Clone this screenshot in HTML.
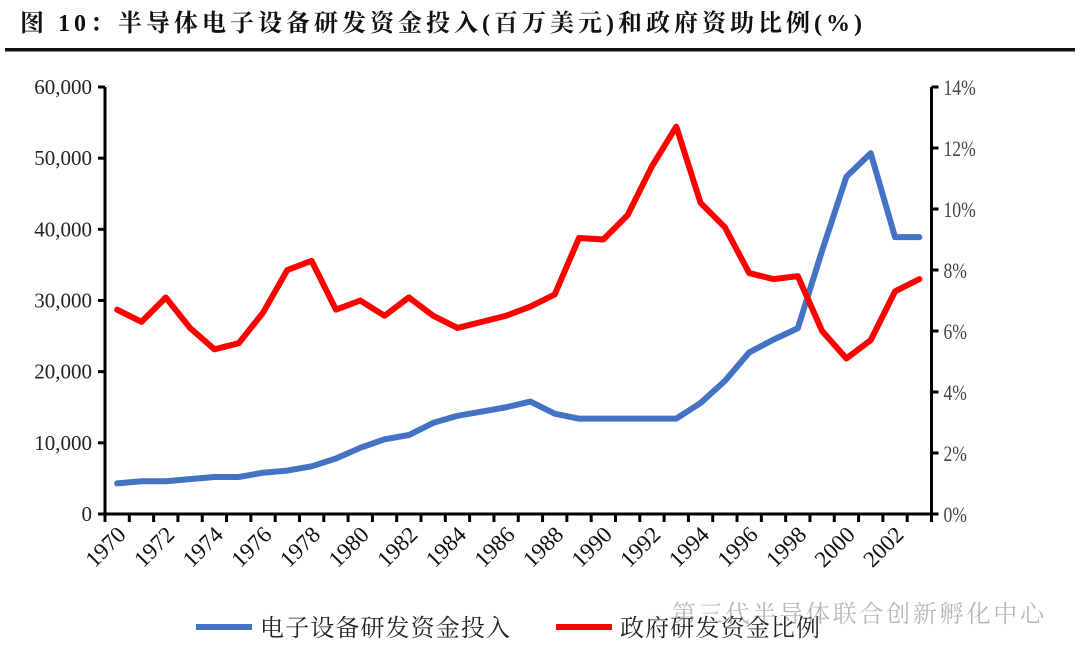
<!DOCTYPE html>
<html><head><meta charset="utf-8"><style>
body{margin:0;background:#fff;width:1080px;height:665px;overflow:hidden}
svg text{font-family:"Liberation Serif","Noto Serif CJK SC",serif}
</style></head><body>
<svg width="1080" height="665" viewBox="0 0 1080 665">
<text x="20" y="31" font-size="24" font-weight="bold" fill="#111" textLength="842" lengthAdjust="spacing">图 10：半导体电子设备研发资金投入(百万美元)和政府资助比例(%)</text>
<rect x="5" y="48" width="1070" height="3.5" fill="#111"/>
<g id="axes"></g>
<g id="lines"></g>
<g>
<line x1="196" y1="627" x2="252" y2="627" stroke="#4472C4" stroke-width="6"/>
<text x="260" y="636" font-size="24" fill="#222" textLength="250" lengthAdjust="spacing" font-family="Liberation Sans,Noto Sans CJK SC,sans-serif">电子设备研发资金投入</text>
<line x1="556" y1="627" x2="612" y2="627" stroke="#FF0000" stroke-width="6"/>
<text x="620" y="636" font-size="24" fill="#222" textLength="200" lengthAdjust="spacing" font-family="Liberation Sans,Noto Sans CJK SC,sans-serif">政府研发资金比例</text>
</g>
<text x="672" y="622" font-size="24" fill="#888" opacity="0.6" textLength="372" lengthAdjust="spacing" font-family="Liberation Sans,Noto Sans CJK SC,sans-serif">第三代半导体联合创新孵化中心</text>
</svg>
<script>
const years=[1970,1971,1972,1973,1974,1975,1976,1977,1978,1979,1980,1981,1982,1983,1984,1985,1986,1987,1988,1989,1990,1991,1992,1993,1994,1995,1996,1997,1998,1999,2000,2001,2002,2003];
const investment=[4300,4600,4600,4900,5200,5200,5800,6100,6700,7800,9300,10500,11100,12800,13800,14400,15000,15800,14100,13400,13400,13400,13400,13400,15600,18700,22700,24500,26100,37000,47400,50700,38900,38900];
const ratio=[6.7,6.3,7.1,6.1,5.4,5.6,6.6,8.0,8.3,6.7,7.0,6.5,7.1,6.5,6.1,6.3,6.5,6.8,7.2,9.05,9.0,9.8,11.4,12.7,10.2,9.4,7.9,7.7,7.8,6.0,5.1,5.7,7.3,7.7];
const leftTicks=[0,10000,20000,30000,40000,50000,60000];
const rightTicks=[0,2,4,6,8,10,12,14];
const NS="http://www.w3.org/2000/svg";
const X0=105,X1=931.5,Y0=514,Y1=87;
const bw=(X1-X0)/years.length;
const xc=i=>X0+bw*(i+0.5);
const yL=v=>Y0-(v/60000)*(Y0-Y1);
const yR=v=>Y0-(v/14)*(Y0-Y1);
function mk(tag,attrs,parent){const e=document.createElementNS(NS,tag);for(const k in attrs)e.setAttribute(k,attrs[k]);parent.appendChild(e);return e;}
const ax=document.getElementById('axes');
let e;
e=mk('line',{x1:X0,y1:Y1,x2:X0,y2:Y0+1,stroke:'#000','stroke-width':3},ax);


e=mk('line',{x1:X1,y1:Y1,x2:X1,y2:Y0+1,stroke:'#000','stroke-width':3},ax);


e=mk('line',{x1:X0-1,y1:Y0,x2:X1+1,y2:Y0,stroke:'#000','stroke-width':3},ax);


leftTicks.forEach(v=>{
 mk('line',{x1:X0-7,y1:yL(v),x2:X0,y2:yL(v),stroke:'#000','stroke-width':3},ax);
 const t=mk('text',{x:X0-13,y:yL(v)+7,'font-size':21,'text-anchor':'end',fill:'#222'},ax);
 t.textContent=v.toLocaleString('en-US');
 
 
});
rightTicks.forEach(v=>{
 mk('line',{x1:X1,y1:yR(v),x2:X1+7,y2:yR(v),stroke:'#000','stroke-width':3},ax);
 const t=mk('text',{x:X1+12,y:yR(v)+8,'font-size':22,fill:'#444','font-family':'Liberation Sans Narrow,Liberation Sans,sans-serif',transform:`translate(${X1+12} 0) scale(0.8 1) translate(${-(X1+12)} 0)`},ax);
 t.textContent=v+'%';
 
 
});
for(let i=0;i<=years.length;i++){
 mk('line',{x1:X0+bw*i,y1:Y0,x2:X0+bw*i,y2:Y0+8,stroke:'#000','stroke-width':3},ax);
}
years.forEach((y,i)=>{
 if(i%2)return;
 const x=xc(i)+10,yy=Y0+22;
 const t=mk('text',{x:x,y:yy,'font-size':23,'text-anchor':'end',fill:'#111',transform:`rotate(-45 ${x} ${yy})`},ax);
 t.textContent=y;
 
 
});
const lg=document.getElementById('lines');
const p1=mk('polyline',{points:investment.map((v,i)=>xc(i)+','+yL(v)).join(' '),fill:'none',stroke:'#4472C4','stroke-width':6,'stroke-linejoin':'round','stroke-linecap':'round'},lg);


const p2=mk('polyline',{points:ratio.map((v,i)=>xc(i)+','+yR(v)).join(' '),fill:'none',stroke:'#FF0000','stroke-width':6,'stroke-linejoin':'round','stroke-linecap':'round'},lg);


</script>
</body></html>
